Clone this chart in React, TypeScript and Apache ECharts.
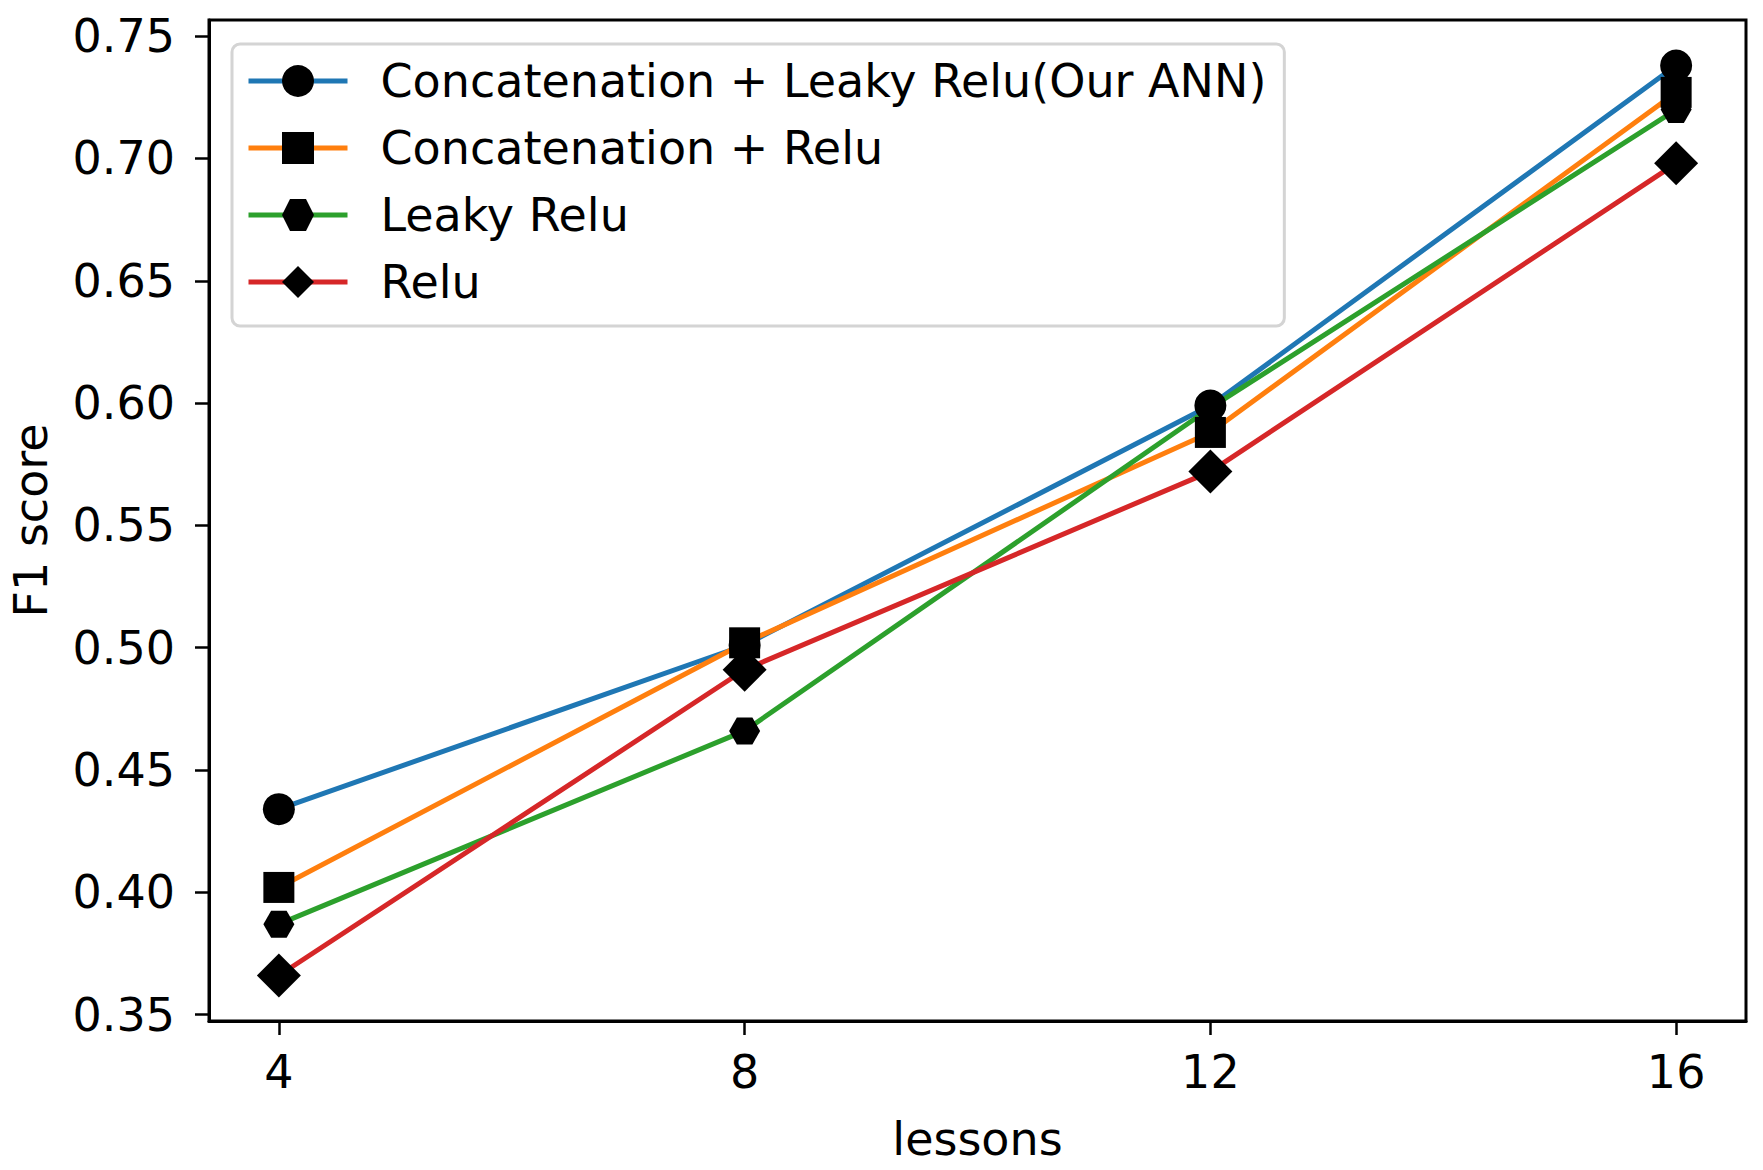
import React, { useEffect, useRef } from "react";
import * as echarts from "echarts";

const lessons = [4, 8, 12, 16];
const concatLeaky = [0.434, 0.501, 0.599, 0.738];
const concatRelu = [0.402, 0.502, 0.588, 0.727];
const leakyRelu = [0.387, 0.466, 0.598, 0.72];
const relu = [0.366, 0.491, 0.572, 0.698];
const yTicks = [0.35, 0.4, 0.45, 0.5, 0.55, 0.6, 0.65, 0.7, 0.75];
const xTicks = [4, 8, 12, 16];
const seriesNames = [
  "Concatenation + Leaky Relu(Our ANN)",
  "Concatenation + Relu",
  "Leaky Relu",
  "Relu",
];

const FONT = "DejaVu Sans";
const FS = 46;
const HEX = "path://M-1,0L-0.5,-0.866L0.5,-0.866L1,0L0.5,0.866L-0.5,0.866Z";
const DIAMOND = "path://M0,-1L1,0L0,1L-1,0Z";

export default function App() {
  const ref = useRef<HTMLDivElement>(null);
  useEffect(() => {
    if (!ref.current) return;
    const chart = echarts.init(ref.current, null, { renderer: "svg" });
    const mk = (
      name: string,
      vals: number[],
      color: string,
      symbol: string,
      size: number | number[]
    ) => ({
      name,
      type: "line",
      data: lessons.map((x, i) => [x, vals[i]]),
      symbol,
      symbolSize: size,
      showAllSymbol: true,
      lineStyle: { color, width: 5 },
      itemStyle: { color: "#000", borderWidth: 0 },
      emphasis: { disabled: true },
    });
    chart.setOption({
      animation: false,
      textStyle: { fontFamily: FONT },
      grid: {
        left: 207,
        right: 17,
        top: 20,
        bottom: 149,
        show: true,
        borderColor: "#000",
        borderWidth: 3,
      },
      legend: {
        orient: "vertical",
        left: 232,
        top: 44,
        itemWidth: 99,
        itemHeight: 40,
        itemGap: 21,
        padding: [14, 18, 21, 14],
        backgroundColor: "#fff",
        borderColor: "#d4d4d4",
        borderWidth: 3,
        borderRadius: 8,
        lineStyle: { width: 5 },
        textStyle: {
          fontFamily: FONT,
          fontSize: FS,
          color: "#000",
          padding: [0, 0, 0, 28],
        },
        data: seriesNames,
      },
      xAxis: {
        type: "value",
        min: 3.4,
        max: 16.6,
        name: "lessons",
        nameLocation: "middle",
        nameGap: 95,
        nameTextStyle: { fontFamily: FONT, fontSize: FS, color: "#000" },
        axisLine: { show: true, onZero: false, lineStyle: { color: "#000", width: 3 } },
        axisTick: {
          show: true,
          length: 14,
          lineStyle: { color: "#000", width: 2.5 },
          customValues: xTicks,
        },
        axisLabel: {
          fontFamily: FONT,
          fontSize: FS,
          color: "#000",
          margin: 28,
          customValues: xTicks,
          formatter: (v: number) => String(v),
        },
        splitLine: { show: false },
      },
      yAxis: {
        type: "value",
        min: 0.3474,
        max: 0.7566,
        name: "F1 score",
        nameLocation: "middle",
        nameGap: 155,
        nameTextStyle: { fontFamily: FONT, fontSize: FS, color: "#000" },
        axisLine: { show: true, onZero: false, lineStyle: { color: "#000", width: 3 } },
        axisTick: {
          show: true,
          length: 14,
          lineStyle: { color: "#000", width: 2.5 },
          customValues: yTicks,
        },
        axisLabel: {
          fontFamily: FONT,
          fontSize: FS,
          color: "#000",
          margin: 34,
          customValues: yTicks,
          formatter: (v: number) => v.toFixed(2),
        },
        splitLine: { show: false },
      },
      series: [
        mk(seriesNames[0], concatLeaky, "#1f77b4", "circle", 32),
        mk(seriesNames[1], concatRelu, "#ff7f0e", "rect", 31),
        mk(seriesNames[2], leakyRelu, "#2ca02c", HEX, [31, 27]),
        mk(seriesNames[3], relu, "#d62728", DIAMOND, 44),
      ],
    });
    return () => chart.dispose();
  }, []);
  return (
    <div
      ref={ref}
      style={{ position: "fixed", left: 0, top: 0, width: 1763, height: 1170, background: "#fff" }}
    />
  );
}
